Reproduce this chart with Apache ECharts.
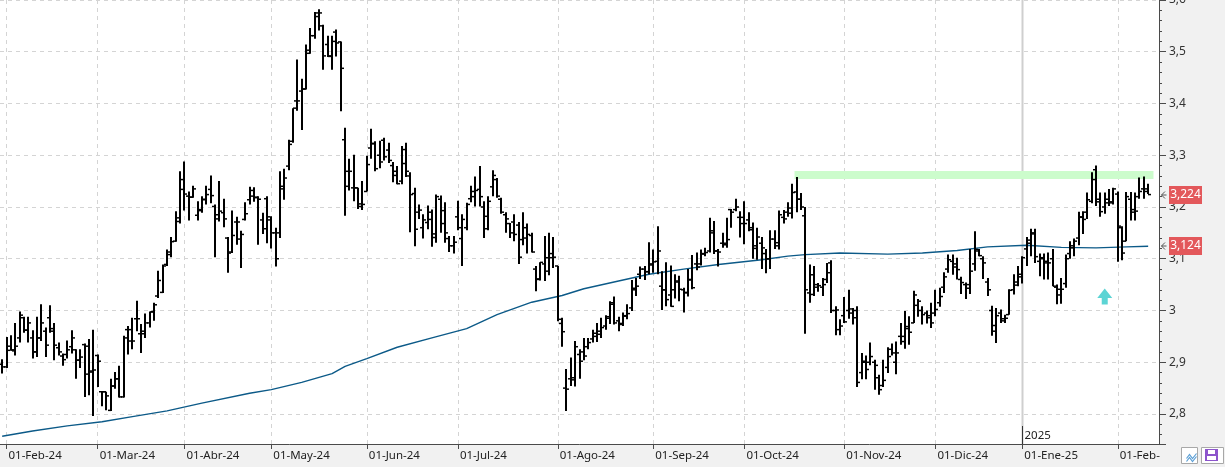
<!DOCTYPE html>
<html><head><meta charset="utf-8">
<script src="https://cdn.jsdelivr.net/npm/echarts@6/dist/echarts.min.js"></script>
<style>html,body{margin:0;padding:0;background:#f1f1f1;}#c{width:1225px;height:467px;}</style>
</head><body><div id="c"></div>
<script>
// ---- tick labels (month starts by bar index) ----
const monthStarts = [1,22,42,62,84,105,128,150,171,194,215,235,257];
const monthLabels = ['01-Feb-24','01-Mar-24','01-Abr-24','01-May-24','01-Jun-24','01-Jul-24','01-Ago-24','01-Sep-24','01-Oct-24','01-Nov-24','01-Dic-24','01-Ene-25','01-Feb-25'];
const totalSlots = 267;
const yearMarkIdx = 235;
const yearLabel = '2025';

// ---- daily OHLC ----
const openP = [
2.896,2.891,2.931,2.922,2.947,2.986,2.962,2.947,2.920,2.947,
2.960,2.986,2.960,2.928,2.912,2.915,2.930,2.924,2.904,2.934,
2.877,2.883,2.913,2.843,2.843,2.807,2.854,2.868,2.833,2.963,
2.941,2.984,2.955,2.960,2.976,2.998,3.028,3.035,3.089,3.108,
3.134,3.172,3.234,3.221,3.219,3.184,3.195,3.215,3.234,3.201,
3.185,3.189,3.140,3.113,3.171,3.138,3.176,3.214,3.232,3.219,
3.175,3.216,3.175,3.150,3.150,3.240,3.279,3.327,3.405,3.424,
3.428,3.497,3.531,3.575,3.550,3.514,3.492,3.538,3.519,3.330,
3.269,3.237,3.237,3.206,3.230,3.314,3.323,3.300,3.329,3.310,
3.280,3.261,3.250,3.284,3.260,3.226,3.190,3.160,3.170,3.190,
3.148,3.215,3.193,3.139,3.125,3.181,3.139,3.160,3.216,3.220,
3.234,3.200,3.182,3.239,3.253,3.215,3.185,3.168,3.171,3.165,
3.137,3.140,3.145,3.080,3.060,3.090,3.076,3.110,3.086,2.975,
2.850,2.868,2.870,2.915,2.920,2.930,2.945,2.950,2.960,2.970,
2.985,3.015,2.980,2.975,2.990,3.005,3.040,3.070,3.080,3.075,
3.090,3.095,3.047,3.040,3.030,3.040,3.055,3.040,3.035,3.060,
3.090,3.090,3.110,3.115,3.150,3.115,3.130,3.130,3.195,3.195,
3.180,3.180,3.175,3.160,3.125,3.130,3.110,3.100,3.138,3.125,
3.180,3.190,3.188,3.229,3.215,3.183,3.034,3.031,3.045,3.045,
3.060,3.092,3.000,2.963,2.990,3.000,2.995,3.000,2.880,2.900,
2.900,2.900,2.870,2.855,2.890,2.925,2.900,2.950,2.950,2.965,
2.976,3.010,3.000,2.995,2.990,2.995,3.015,3.045,3.080,3.095,
3.090,3.060,3.050,3.050,3.090,3.115,3.100,3.055,3.000,2.960,
2.995,2.980,2.992,3.040,3.055,3.070,3.119,3.130,3.150,3.095,
3.100,3.095,3.100,3.045,3.030,3.052,3.110,3.125,3.140,3.180,
3.190,3.211,3.272,3.210,3.200,3.215,3.210,3.225,3.160,3.134,
3.215,3.195,3.220,3.235,3.235];
const highP = [
2.906,2.949,2.952,2.976,2.998,2.988,2.988,2.962,2.988,3.012,
2.967,3.010,2.976,2.938,2.917,2.942,2.962,2.925,2.925,2.936,
2.945,2.963,2.915,2.844,2.843,2.868,2.881,2.893,2.951,2.970,
2.986,3.019,2.974,2.994,2.998,3.015,3.077,3.089,3.118,3.142,
3.192,3.269,3.288,3.230,3.241,3.211,3.221,3.241,3.261,3.205,
3.250,3.216,3.142,3.193,3.181,3.154,3.209,3.239,3.238,3.221,
3.189,3.221,3.182,3.160,3.269,3.274,3.330,3.391,3.485,3.448,
3.514,3.546,3.577,3.582,3.552,3.531,3.531,3.543,3.520,3.353,
3.293,3.301,3.237,3.250,3.299,3.351,3.327,3.328,3.334,3.324,
3.287,3.279,3.318,3.324,3.267,3.237,3.205,3.186,3.203,3.195,
3.224,3.222,3.209,3.144,3.144,3.212,3.186,3.208,3.241,3.259,
3.279,3.211,3.221,3.271,3.256,3.218,3.190,3.169,3.186,3.171,
3.190,3.168,3.150,3.086,3.093,3.144,3.150,3.142,3.086,2.986,
2.887,2.909,2.941,2.925,2.947,2.947,2.963,2.976,2.986,2.991,
3.018,3.027,2.988,2.996,3.012,3.059,3.063,3.085,3.086,3.132,
3.118,3.163,3.076,3.093,3.087,3.070,3.067,3.044,3.080,3.107,
3.112,3.118,3.121,3.179,3.173,3.119,3.150,3.179,3.196,3.216,
3.192,3.211,3.190,3.170,3.160,3.142,3.119,3.155,3.155,3.193,
3.194,3.209,3.245,3.258,3.227,3.200,3.089,3.086,3.053,3.063,
3.092,3.097,3.008,2.983,3.026,3.040,3.005,3.008,2.918,2.913,
2.938,2.905,2.876,2.905,2.929,2.936,2.940,2.976,2.999,2.989,
3.038,3.022,3.008,3.000,3.015,3.040,3.044,3.074,3.108,3.108,
3.102,3.065,3.054,3.119,3.153,3.119,3.105,3.063,3.009,3.005,
3.002,2.992,3.041,3.070,3.086,3.105,3.142,3.158,3.158,3.110,
3.110,3.112,3.119,3.050,3.063,3.108,3.134,3.139,3.191,3.192,
3.228,3.267,3.280,3.228,3.228,3.235,3.237,3.230,3.163,3.229,
3.229,3.228,3.257,3.259,3.245];
const lowP = [
2.878,2.889,2.922,2.913,2.938,2.957,2.938,2.907,2.910,2.941,
2.910,2.957,2.904,2.913,2.893,2.907,2.917,2.868,2.889,2.833,
2.836,2.796,2.852,2.815,2.807,2.806,2.849,2.832,2.832,2.915,
2.925,2.960,2.918,2.947,2.967,2.980,3.024,3.034,3.086,3.103,
3.133,3.168,3.193,3.174,3.218,3.174,3.189,3.205,3.207,3.103,
3.172,3.161,3.073,3.111,3.127,3.082,3.174,3.205,3.210,3.127,
3.148,3.130,3.120,3.085,3.140,3.214,3.271,3.324,3.386,3.349,
3.427,3.496,3.525,3.541,3.465,3.490,3.465,3.491,3.385,3.183,
3.232,3.211,3.196,3.194,3.230,3.293,3.269,3.275,3.290,3.285,
3.248,3.244,3.244,3.258,3.151,3.124,3.177,3.139,3.157,3.123,
3.131,3.150,3.131,3.113,3.110,3.155,3.086,3.155,3.209,3.201,
3.201,3.140,3.155,3.221,3.218,3.187,3.150,3.140,3.134,3.090,
3.126,3.110,3.112,3.037,3.058,3.057,3.068,3.082,2.979,2.930,
2.806,2.854,2.853,2.868,2.904,2.925,2.938,2.939,2.947,2.963,
2.974,2.973,2.960,2.970,2.983,2.999,3.028,3.061,3.059,3.070,
3.073,3.070,3.001,3.008,3.007,3.023,3.018,2.996,3.027,3.041,
3.078,3.087,3.105,3.112,3.109,3.085,3.121,3.121,3.160,3.192,
3.141,3.128,3.153,3.100,3.098,3.080,3.072,3.080,3.119,3.118,
3.168,3.181,3.178,3.190,3.194,2.955,3.015,3.028,3.036,3.028,
3.053,2.995,2.952,2.952,2.976,2.984,2.973,2.852,2.867,2.867,
2.894,2.847,2.837,2.852,2.879,2.913,2.877,2.934,2.926,2.934,
2.976,2.988,2.973,2.975,2.966,2.989,3.007,3.034,3.073,3.069,
3.060,3.032,3.022,3.032,3.077,3.105,3.061,3.028,2.951,2.937,
2.976,2.976,2.992,3.031,3.047,3.052,3.086,3.105,3.092,3.066,
3.060,3.060,3.047,3.012,3.013,3.044,3.100,3.105,3.126,3.148,
3.177,3.207,3.202,3.181,3.187,3.202,3.205,3.094,3.097,3.134,
3.174,3.174,3.216,3.216,3.225];
const closeP = [
2.891,2.923,2.924,2.931,2.991,2.962,2.976,2.920,2.947,2.976,
2.933,2.965,2.933,2.920,2.905,2.924,2.947,2.904,2.910,2.931,
2.881,2.885,2.902,2.843,2.835,2.854,2.868,2.833,2.947,2.963,
2.941,2.984,2.955,2.976,2.997,3.011,3.058,3.086,3.113,3.133,
3.179,3.253,3.225,3.219,3.235,3.193,3.214,3.224,3.222,3.177,
3.192,3.177,3.111,3.145,3.171,3.147,3.187,3.221,3.218,3.215,
3.158,3.181,3.150,3.100,3.235,3.256,3.321,3.391,3.405,3.428,
3.503,3.531,3.568,3.575,3.492,3.491,3.520,3.517,3.468,3.240,
3.269,3.237,3.201,3.205,3.282,3.322,3.274,3.287,3.297,3.290,
3.269,3.245,3.311,3.269,3.224,3.157,3.194,3.175,3.176,3.141,
3.220,3.168,3.150,3.125,3.132,3.160,3.176,3.205,3.230,3.232,
3.220,3.158,3.211,3.261,3.221,3.190,3.177,3.150,3.147,3.103,
3.160,3.147,3.113,3.061,3.093,3.102,3.102,3.103,2.983,2.959,
2.848,2.866,2.930,2.902,2.912,2.938,2.956,2.954,2.967,2.988,
3.012,2.976,2.973,2.989,2.994,3.043,3.047,3.080,3.075,3.088,
3.094,3.115,3.040,3.021,3.008,3.057,3.041,3.034,3.059,3.044,
3.084,3.109,3.112,3.154,3.115,3.113,3.127,3.137,3.190,3.200,
3.168,3.168,3.156,3.120,3.142,3.121,3.100,3.138,3.131,3.185,
3.177,3.198,3.228,3.215,3.200,3.040,3.069,3.050,3.048,3.050,
3.073,3.000,3.001,2.970,2.978,3.003,2.986,2.861,2.902,2.886,
2.911,2.894,2.847,2.865,2.911,2.918,2.918,2.940,2.969,2.958,
3.030,3.018,2.992,2.986,2.976,3.002,3.027,3.065,3.098,3.084,
3.079,3.054,3.043,3.076,3.118,3.106,3.092,3.040,2.971,2.990,
2.984,2.985,3.039,3.049,3.065,3.102,3.136,3.148,3.104,3.102,
3.092,3.092,3.047,3.041,3.041,3.100,3.121,3.134,3.181,3.176,
3.214,3.253,3.215,3.191,3.208,3.208,3.235,3.163,3.111,3.220,
3.190,3.192,3.230,3.230,3.224];

// ---- moving average (read at sampled bars) ----
const maIdx = [0,7,15,23,30,38,46,57,62,69,76,79,84,91,99,107,114,122,129,134,142,149,157,165,175,181,185,193,204,212,220,227,236,244,252,259,264];
const maVal = [2.757,2.767,2.777,2.785,2.795,2.806,2.821,2.840,2.847,2.861,2.878,2.892,2.907,2.929,2.947,2.965,2.992,3.016,3.029,3.042,3.057,3.070,3.080,3.089,3.098,3.105,3.108,3.111,3.109,3.111,3.116,3.123,3.126,3.122,3.121,3.123,3.124];

// ---- resistance band, price tags, signal ----
const resFrom = 183, resTo = 265, resVal = 3.262;
const tagIdx = [264, 264];
const tagVal = [3.224, 3.124];
const signalIdx = [254];
const signalVal = [3.027];

const FONT = 'Noto Sans';
const cats = Array.from({length: totalSlots}, (_, i) => String(i));
const startSet = new Set(monthStarts);
const labelAt = {};
monthStarts.forEach((s, k) => { labelAt[s] = monthLabels[k]; });
const isStart = (i) => startSet.has(i);
const fmtNum = (v) => String(+(+v).toFixed(3)).replace('.', ',');

const ohlc = openP.map((o, i) => [i, o, highP[i], lowP[i], closeP[i]]);

const chart = echarts.init(document.getElementById('c'), null, {renderer: 'canvas'});
chart.setOption({
  backgroundColor: '#f1f1f1',
  animation: false,
  grid: {left: 0, right: 66, top: 0, bottom: 23, show: true, backgroundColor: '#ffffff', borderWidth: 0,
    containLabel: false, outerBoundsMode: 'none'},
  xAxis: {
    type: 'category', data: cats, boundaryGap: true,
    axisLine: {show: true, lineStyle: {color: '#4a4a4a', width: 1}},
    axisTick: {show: true, alignWithLabel: true, interval: isStart, length: 5, lineStyle: {color: '#4a4a4a'}},
    axisLabel: {interval: isStart, formatter: (v, i) => labelAt[i] || '', align: 'left', margin: 6,
      color: '#222', fontSize: 11.5, fontFamily: FONT, padding: [0, 0, 0, 2]},
    splitLine: {show: true, interval: isStart, alignWithLabel: true, lineStyle: {color: '#d4d4d4', type: [4, 4], width: 1}}
  },
  yAxis: {
    type: 'value', position: 'right', min: 2.742, max: 3.6, splitNumber: 9,
    axisLine: {show: true, lineStyle: {color: '#4a4a4a', width: 1}},
    axisTick: {show: true, length: 7, lineStyle: {color: '#4a4a4a'}},
    minorTick: {show: true, splitNumber: 5, length: 3, lineStyle: {color: '#4a4a4a'}},
    axisLabel: {margin: 10, color: '#333', fontSize: 12, fontFamily: FONT, showMinLabel: false, formatter: fmtNum},
    splitLine: {show: true, lineStyle: {color: '#d4d4d4', type: [4, 4], width: 1}}
  },
  series: [
    { // year separator
      type: 'custom', z: 1, silent: true,
      data: [[yearMarkIdx]],
      encode: {x: 0},
      renderItem: (params, api) => {
        const cs = params.coordSys;
        const x = Math.round(api.coord([api.value(0), 3])[0]) + 0.5;
        const bottom = cs.y + cs.height;
        return {type: 'group', children: [
          {type: 'line', shape: {x1: x, y1: cs.y, x2: x, y2: bottom}, style: {stroke: '#cfcfcf', lineWidth: 2}},
          {type: 'line', shape: {x1: x, y1: bottom - 18, x2: x, y2: bottom}, style: {stroke: '#333', lineWidth: 1}},
          {type: 'text', x: x + 2, y: bottom - 8, style: {text: yearLabel, fill: '#222', fontSize: 11.5, fontFamily: FONT, verticalAlign: 'middle', align: 'left'}}
        ]};
      }
    },
    { // resistance band
      type: 'custom', z: 2, silent: true,
      data: [[resFrom, resTo, resVal]],
      encode: {x: [0, 1], y: 2},
      renderItem: (params, api) => {
        const p1 = api.coord([api.value(0), api.value(2)]);
        const p2 = api.coord([api.value(1), api.value(2)]);
        return {type: 'rect', shape: {x: p1[0] - 2, y: p1[1] - 4, width: p2[0] - p1[0] + 3, height: 8},
          style: {fill: '#ccfccc'}};
      }
    },
    {
      type: 'line', z: 3, silent: true, symbol: 'none',
      data: maIdx.map((d, k) => [d, maVal[k]]),
      lineStyle: {color: '#0c5a88', width: 1.4}
    },
    { // OHLC bars
      type: 'custom', z: 4, silent: true,
      data: ohlc,
      encode: {x: 0, y: [1, 2, 3, 4]},
      renderItem: (params, api) => {
        const i = api.value(0);
        const pO = api.coord([i, api.value(1)]);
        const pH = api.coord([i, api.value(2)]);
        const pL = api.coord([i, api.value(3)]);
        const pC = api.coord([i, api.value(4)]);
        const x = Math.round(pH[0]);
        return {type: 'group', children: [
          {type: 'line', shape: {x1: x, y1: pH[1], x2: x, y2: pL[1]}, style: {stroke: '#000', lineWidth: 2}},
          {type: 'line', shape: {x1: x - 3, y1: pO[1], x2: x, y2: pO[1]}, style: {stroke: '#000', lineWidth: 1.5}},
          {type: 'line', shape: {x1: x, y1: pC[1], x2: x + 3, y2: pC[1]}, style: {stroke: '#000', lineWidth: 1.5}}
        ]};
      }
    },
    {
      type: 'scatter', z: 5, silent: true,
      data: signalIdx.map((d, k) => [d, signalVal[k]]),
      symbol: 'path://M7.5,0 L15,9.5 L10.5,9.5 L10.5,16 L4.5,16 L4.5,9.5 L0,9.5 Z',
      symbolSize: [15, 16],
      itemStyle: {color: '#33c9c9'}
    },
    { // price tags on the right axis
      type: 'custom', z: 6, silent: true, clip: false,
      data: tagIdx.map((d, k) => [d, tagVal[k]]),
      encode: {x: 0, y: 1},
      renderItem: (params, api) => {
        const cs = params.coordSys;
        const val = api.value(1);
        const y = Math.round(api.coord([api.value(0), val])[1]);
        const xr = cs.x + cs.width;
        return {type: 'group', children: [
          {type: 'polyline', shape: {points: [[xr + 6, y - 3.5], [xr + 2.5, y], [xr + 6, y + 3.5]]}, style: {stroke: '#555', lineWidth: 1, fill: null}},
          {type: 'line', shape: {x1: xr + 2.5, y1: y, x2: xr + 7.5, y2: y}, style: {stroke: '#555', lineWidth: 1}},
          {type: 'rect', shape: {x: xr + 10, y: y - 9, width: 33, height: 18}, style: {fill: '#e3585b'}},
          {type: 'text', x: xr + 26.5, y: y, style: {text: fmtNum(val), fill: '#fff', fontSize: 12, fontFamily: FONT, align: 'center', verticalAlign: 'middle'}}
        ]};
      }
    }
  ],
  graphic: [
    {type: 'rect', z: 100, left: 1160, top: 445, shape: {width: 65, height: 22}, style: {fill: '#f1f1f1'}},
    {type: 'rect', z: 101, left: 1181, top: 447, shape: {width: 16, height: 16}, style: {fill: '#fff', stroke: '#a8a8a8', lineWidth: 1}},
    {type: 'polyline', z: 102, left: 1184, top: 451, shape: {points: [[0, 6], [3, 2], [6, 6], [10, 1]]}, style: {stroke: '#5b9fd6', lineWidth: 1.2, fill: null}},
    {type: 'polyline', z: 102, left: 1184, top: 454, shape: {points: [[0, 6], [3, 2], [6, 6], [10, 1]]}, style: {stroke: '#5b9fd6', lineWidth: 1.2, fill: null}},
    {type: 'rect', z: 101, left: 1201, top: 447, shape: {width: 22, height: 16}, style: {fill: '#fff', stroke: '#a8a8a8', lineWidth: 1}},
    {type: 'rect', z: 102, left: 1205, top: 449, shape: {width: 13, height: 12}, style: {fill: '#8d55cc'}},
    {type: 'rect', z: 103, left: 1208, top: 450, shape: {width: 7, height: 4}, style: {fill: '#fff'}},
    {type: 'rect', z: 103, left: 1207, top: 456, shape: {width: 9, height: 4}, style: {fill: '#fff'}}
  ]
});
</script>
</body></html>
